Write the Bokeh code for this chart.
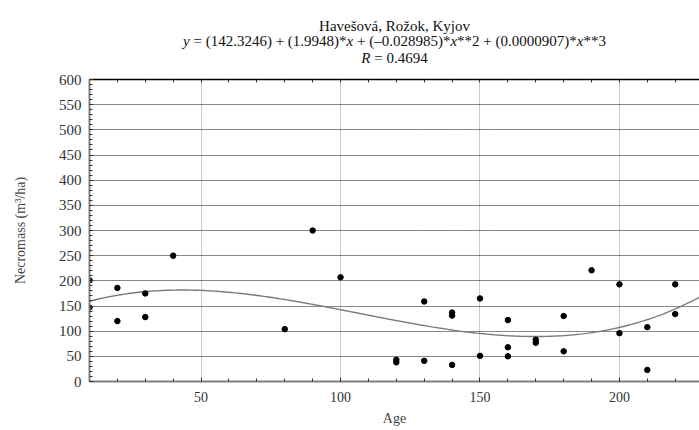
import numpy as np
from bokeh.plotting import figure
from bokeh.layouts import column
from bokeh.models import LinearAxis, FixedTicker, Range1d, ColumnDataSource, Label
from bokeh.embed import file_html
from bokeh.resources import INLINE

# ---- data ----
ages = [10, 10, 20, 20, 30, 30, 40, 80, 90, 100, 120, 120, 130, 130,
        140, 140, 140, 150, 150, 160, 160, 160, 170, 170, 180, 180,
        190, 200, 200, 210, 210, 220, 220, 230]
necromass = [201, 147, 186, 120, 175, 128, 250, 104, 300, 207, 43, 38, 159, 41,
             137, 131, 33, 165, 51, 122, 68, 50, 83, 77, 130, 60,
             221, 193, 96, 108, 23, 193, 134, 145]
# fitted cubic given in the chart title
coef = [142.3246, 1.9948, -0.028985, 0.0000907]
x_major = [50, 100, 150, 200]
x_minor = list(range(10, 231, 10))
y_major = list(range(0, 601, 50))
y_minor = list(range(0, 601, 10))
title_line1 = "Havešová, Rožok, Kyjov"
eq_segments = [("y", True), (" = (142.3246) + (1.9948)*", False), ("x", True),
               (" + (–0.028985)*", False), ("x", True),
               ("**2 + (0.0000907)*", False), ("x", True), ("**3", False)]
r_segments = [("R", True), (" = 0.4694", False)]
x_label = "Age"
y_label = "Necromass (m³/ha)"

# ---- layout constants (px) ----
FONT = "Liberation Serif"
W = 699
TITLE_H = 66
MAIN_H = 430 - TITLE_H
FRAME_LEFT = 89
TFS = 15

# ---------------- title block ----------------
t = figure(width=W, height=TITLE_H, output_backend="svg", toolbar_location=None,
           x_range=Range1d(0, W - FRAME_LEFT), y_range=Range1d(0, TITLE_H),
           min_border_left=FRAME_LEFT, min_border_right=0, min_border_top=0,
           min_border_bottom=0, x_axis_location=None, y_axis_location=None)
t.outline_line_color = None
t.xgrid.visible = False
t.ygrid.visible = False

ROMAN = {" ": .25, "(": .333, ")": .333, "*": .5, "+": .564, ".": .25, "=": .564,
         "–": .5}
ITALIC = {"x": .444, "y": .444, "R": .611}


def seg_width(s, italic):
    tbl = ITALIC if italic else ROMAN
    return sum(tbl.get(ch, .5) for ch in s) * TFS


center = FRAME_LEFT + (W - FRAME_LEFT) / 2.0   # page x of the plot-frame centre


def add_text(page_x, baseline, txt, italic=False, align="left"):
    t.add_layout(Label(x=page_x - FRAME_LEFT, y=TITLE_H - baseline,
                       x_units="screen", y_units="screen",
                       text=txt, text_font=FONT, text_font_size=f"{TFS}px",
                       text_font_style="italic" if italic else "normal",
                       text_align=align, text_baseline="alphabetic",
                       text_color="#111111"))


add_text(center, 25.5, title_line1, align="center")


def add_segments(segs, baseline):
    total = sum(seg_width(s, it) for s, it in segs)
    cur = center - total / 2.0
    for s, it in segs:
        lead = len(s) - len(s.lstrip(" "))
        add_text(cur + lead * .25 * TFS, baseline, s.strip(" "), italic=it)
        cur += seg_width(s, it)


add_segments(eq_segments, 40.5)
add_segments(r_segments, 57.5)

# ---------------- main plot ----------------
p = figure(width=W, height=MAIN_H, output_backend="svg", toolbar_location=None,
           x_range=Range1d(10, 228.7), y_range=Range1d(0, 600),
           min_border_left=FRAME_LEFT, min_border_right=0, min_border_top=13,
           min_border_bottom=49, x_axis_location=None, y_axis_location=None)
p.outline_line_color = None
p.background_fill_color = "white"
p.border_fill_color = "white"

xax = LinearAxis(ticker=FixedTicker(ticks=x_major, minor_ticks=x_minor))
yax = LinearAxis(ticker=FixedTicker(ticks=y_major, minor_ticks=y_minor))
for ax in (xax, yax):
    ax.major_label_text_font = FONT
    ax.major_label_text_color = "#333333"
    ax.axis_label_text_font = FONT
    ax.axis_label_text_font_style = "normal"
    ax.axis_label_text_color = "#444444"
    ax.axis_line_color = "#808080"
    ax.axis_line_width = 2
    ax.major_tick_out = 0
    ax.major_tick_in = 4
    ax.minor_tick_out = 0
    ax.minor_tick_in = 3
    ax.major_tick_line_color = "#333333"
    ax.minor_tick_line_color = "#333333"
xax.major_label_text_font_size = "14px"
xax.major_label_standoff = 10
xax.axis_label = x_label
xax.axis_label_text_font_size = "14px"
xax.axis_label_standoff = 6
yax.major_label_text_font_size = "15px"
yax.major_label_standoff = 8
yax.axis_label = y_label
yax.axis_label_text_font_size = "14px"
yax.axis_label_standoff = 28
p.add_layout(xax, "below")
p.add_layout(yax, "left")

top = LinearAxis(ticker=FixedTicker(ticks=[], minor_ticks=x_minor))
top.axis_line_color = "black"
top.axis_line_width = 1.5
top.major_tick_out = 0
top.minor_tick_out = 0
top.minor_tick_in = 3
top.minor_tick_line_color = "#333333"
top.major_label_standoff = 0
p.add_layout(top, "above")

p.xgrid.ticker = FixedTicker(ticks=x_major)
p.xgrid.grid_line_color = "#999999"
p.xgrid.grid_line_dash = "1 1"
p.ygrid.ticker = FixedTicker(ticks=y_major)
p.ygrid.grid_line_color = "#111111"
p.ygrid.grid_line_dash = "1 1"

xs = np.linspace(10, 230, 300)
ys = coef[0] + coef[1] * xs + coef[2] * xs ** 2 + coef[3] * xs ** 3
p.line(xs, ys, line_color="#7a7a7a", line_width=1.4)

src = ColumnDataSource(dict(age=ages, nm=necromass))
p.scatter("age", "nm", source=src, size=5.5, fill_color="black", line_color="black")

layout = column(t, p, spacing=0)
open("out.html", "w").write(file_html(layout, INLINE))
